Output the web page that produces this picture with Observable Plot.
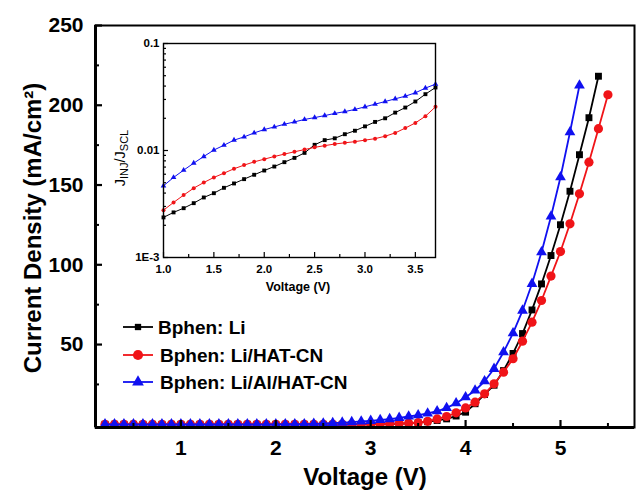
<!DOCTYPE html>
<html>
<head>
<meta charset="utf-8">
<script src="https://cdn.jsdelivr.net/npm/d3@7"></script>
<script src="https://cdn.jsdelivr.net/npm/@observablehq/plot@0.6"></script>
<style>
  html, body { margin: 0; padding: 0; background: #fff; }
  #wrap { position: relative; width: 636px; height: 491px; overflow: hidden; }
  #inset { position: absolute; left: 105px; top: 33px; }
  svg { font-family: "Liberation Sans", Arial, sans-serif; }
</style>
</head>
<body>
<div id="wrap"><div id="main"></div><div id="inset"></div></div>
<script>
// ---------- main chart data (J-V) ----------
const voltage = [0.2,0.3,0.4,0.5,0.6,0.7,0.8,0.9,1.0,1.1,1.2,1.3,1.4,1.5,1.6,1.7,1.8,1.9,2.0,
  2.1,2.2,2.3,2.4,2.5,2.6,2.7,2.8,2.9,3.0,3.1,3.2,3.3,3.4,3.5,3.6,3.7,3.8,3.9,4.0,
  4.1,4.2,4.3,4.4,4.5,4.6,4.7,4.8,4.9,5.0,5.1,5.2,5.3,5.4,5.5];
const jBphenLi = [0,0,0,0,0,0,0,0,0,0,0,0,0,0,0,0,0,0,0,0,0,0,0,0,0,0,0,0,0,0,
  0.15,0.3,0.6,1.0,1.6,2.4,3.4,5.2,7.6,12.9,18.7,24.5,33.7,44.4,56.9,71.7,88.0,105.8,125.1,146.1,169.0,192.2,218.2];
const jLiHat = [0,0,0,0,0,0,0,0,0,0,0,0,0,0,0,0,0,0,0,0,0,0,0,0,0,0,0,0,
  0.1,0.2,0.3,0.5,0.7,1.0,1.9,3.4,4.9,7.2,10.3,13.9,19.1,25.4,32.7,41.1,52.1,64.0,77.6,92.9,108.3,125.7,144.5,164.3,185.3,206.6];
const jLiAlHat = [0,0,0,0,0,0,0,0,0,0,0,0,0,0,0,0,0,0,0,
  0.1,0.1,0.1,0.3,0.5,0.8,1.1,1.4,1.8,2.2,2.7,3.3,4.1,4.9,5.7,6.8,8.2,10.3,13.2,17.0,21.2,27.0,34.8,45.2,57.1,71.3,88.1,107.9,130.3,154.9,183.1,212.4];

const seriesNames = ["Bphen: Li", "Bphen: Li/HAT-CN", "Bphen: Li/Al/HAT-CN"];
const seriesColors = ["#000000", "#f01418", "#1010f0"];
const seriesSymbols = ["square", "circle", "triangle"];

const xDomain = [0.1, 5.78];
const yDomain = [-2, 250];
const xMajor = [1, 2, 3, 4, 5];
const xMinor = [0.5, 1.5, 2.5, 3.5, 4.5, 5.5];
const yMajor = [50, 100, 150, 200, 250];
const yMinor = [25, 75, 125, 175, 225];

// ---------- inset data (J_INJ / J_SCL) ----------
const insetVoltage = [1.0,1.1,1.2,1.3,1.4,1.5,1.6,1.7,1.8,1.9,2.0,2.1,2.2,2.3,2.4,2.5,2.6,2.7,2.8,2.9,3.0,3.1,3.2,3.3,3.4,3.5,3.6,3.7];
const rBphenLi = [0.00237,0.00264,0.00289,0.00322,0.00364,0.00399,0.00448,0.00492,0.0054,0.00593,0.0065,0.00708,0.00778,0.00853,0.0095,
  0.0113,0.0125,0.0130,0.0142,0.0153,0.0168,0.0185,0.0200,0.0226,0.0252,0.0287,0.0336,0.0388];
const rLiHat = [0.00277,0.00327,0.00383,0.00445,0.00502,0.0056,0.00614,0.00675,0.0073,0.00783,0.0083,0.00879,0.00925,0.00973,0.0102,
  0.0107,0.0111,0.0115,0.0118,0.0121,0.0125,0.0129,0.0136,0.0146,0.0162,0.0181,0.0209,0.0256];
const rLiAlHat = [0.00468,0.0056,0.00655,0.00762,0.00879,0.0101,0.0112,0.0125,0.0134,0.0146,0.0157,0.0166,0.0176,0.0185,0.0195,
  0.0203,0.0212,0.0222,0.0231,0.0242,0.0256,0.0271,0.0287,0.0304,0.0322,0.0346,0.0383,0.0417];

const insetXDomain = [1.0, 3.7];
const insetYDomain = [0.001, 0.1];
const insetXMajor = [1.0, 1.5, 2.0, 2.5, 3.0, 3.5];
const insetXLabels = ["1.0", "1.5", "2.0", "2.5", "3.0", "3.5"];
const insetXMinor = [1.25, 1.75, 2.25, 2.75, 3.25];
const insetYMajor = [0.001, 0.01, 0.1];
const insetYLabels = ["1E-3", "0.01", "0.1"];
const insetYMinor = [0.002,0.003,0.004,0.005,0.006,0.007,0.008,0.009,0.02,0.03,0.04,0.05,0.06,0.07,0.08,0.09];

// ---------- build tables ----------
const mainJ = [jBphenLi, jLiHat, jLiAlHat];
const mainRows = mainJ.map((js, s) => js.map((j, i) => ({v: voltage[i], j, s})));
const insetR = [rBphenLi, rLiHat, rLiAlHat];
const insetRows = insetR.map((rs, s) => rs.map((r, i) => ({v: insetVoltage[i], r, s})));
const insetXLabelMap = new Map(insetXMajor.map((d, i) => [d, insetXLabels[i]]));
const insetYLabelMap = new Map(insetYMajor.map((d, i) => [d, insetYLabels[i]]));

const mainSizes = [3.9, 4.6, 4.0];
const insetSizes = [2.2, 2.0, 2.1];

// ---------- main plot ----------
const mainMarks = [];
mainRows.forEach((rows, s) => {
  mainMarks.push(Plot.line(rows, {x: "v", y: "j", stroke: seriesColors[s], strokeWidth: 1.8}));
  mainMarks.push(Plot.dot(rows, {x: "v", y: "j", symbol: () => seriesSymbols[s], fill: seriesColors[s], stroke: "none", r: mainSizes[s]}));
});

const main = Plot.plot({
  width: 636, height: 491,
  marginLeft: 95, marginRight: 2, marginTop: 25, marginBottom: 64,
  x: {domain: xDomain},
  y: {domain: yDomain},
  style: {fontFamily: "'Liberation Sans', Arial, sans-serif", background: "white", overflow: "visible"},
  marks: [
    ...mainMarks,
    Plot.frame({stroke: "#000", strokeWidth: 2}),
    Plot.ruleX([xDomain[0]], {stroke: "#000", strokeWidth: 3}),
    Plot.ruleY([yDomain[0]], {stroke: "#000", strokeWidth: 3}),
    Plot.axisX({ticks: xMajor, tickSize: -7, text: null, label: null, strokeWidth: 2.2}),
    Plot.axisX({ticks: xMinor, tickSize: -4, text: null, label: null, strokeWidth: 2}),
    Plot.axisX({ticks: xMajor, tickSize: 0, tickPadding: 13, tickFormat: d => String(d), label: null,
      fontSize: 21, fontWeight: "bold", fill: "#000"}),
    Plot.axisY({ticks: yMajor, tickSize: -7, text: null, label: null, strokeWidth: 2.2}),
    Plot.axisY({ticks: yMinor, tickSize: -4, text: null, label: null, strokeWidth: 2}),
    Plot.axisY({ticks: yMajor, tickSize: 0, tickPadding: 12, tickFormat: d => String(d), label: null,
      fontSize: 21, fontWeight: "bold", fill: "#000"})
  ]
});
document.getElementById("main").appendChild(main);

const svg = d3.select(main);
// axis titles
svg.append("text")
  .attr("transform", "translate(41,228) rotate(-90)")
  .attr("text-anchor", "middle")
  .attr("font-size", 24).attr("font-weight", "bold").attr("fill", "#000")
  .text("Current Density (mA/cm²)");
svg.append("text")
  .attr("x", 365).attr("y", 485)
  .attr("text-anchor", "middle")
  .attr("font-size", 24).attr("font-weight", "bold").attr("fill", "#000")
  .text("Voltage (V)");

// legend
const legendRowY = [327, 355, 382];
seriesNames.forEach((name, s) => {
  const g = svg.append("g").attr("transform", `translate(123,${legendRowY[s]})`);
  g.append("line").attr("x1", 0).attr("x2", 30).attr("y1", 0).attr("y2", 0)
    .attr("stroke", seriesColors[s]).attr("stroke-width", 1.8);
  const sym = d3.symbol().type(seriesSymbols[s] === "square" ? d3.symbolSquare : seriesSymbols[s] === "circle" ? d3.symbolCircle : d3.symbolTriangle)
    .size(seriesSymbols[s] === "square" ? 40 : seriesSymbols[s] === "circle" ? 80 : 60);
  g.append("path").attr("d", sym()).attr("transform", "translate(15,0)").attr("fill", seriesColors[s]);
  g.append("text").attr("x", s === 0 ? 35 : 37).attr("y", 0).attr("dy", "0.36em")
    .attr("text-anchor", "start")
    .attr("font-size", 19).attr("font-weight", "bold").attr("fill", "#000").text(name);
});

// ---------- inset plot ----------
const insetMarks = [];
insetRows.forEach((rows, s) => {
  insetMarks.push(Plot.line(rows, {x: "v", y: "r", stroke: seriesColors[s], strokeWidth: 1}));
  insetMarks.push(Plot.dot(rows, {x: "v", y: "r", symbol: () => seriesSymbols[s], fill: seriesColors[s], stroke: "none", r: insetSizes[s]}));
});

const inset = Plot.plot({
  width: 340, height: 265,
  marginLeft: 58, marginRight: 10, marginTop: 10, marginBottom: 41,
  x: {domain: insetXDomain},
  y: {type: "log", domain: insetYDomain},
  style: {fontFamily: "'Liberation Sans', Arial, sans-serif", background: "transparent", overflow: "visible"},
  marks: [
    ...insetMarks,
    Plot.frame({stroke: "#000", strokeWidth: 1.4}),
    Plot.axisX({ticks: insetXMajor, tickSize: -5, text: null, label: null, strokeWidth: 1.2}),
    Plot.axisX({ticks: insetXMinor, tickSize: -3, text: null, label: null, strokeWidth: 1.2}),
    Plot.axisX({ticks: insetXMajor, tickSize: 0, tickPadding: 7, tickFormat: d => insetXLabelMap.get(d), label: null,
      fontSize: 11.5, fontWeight: "bold", fill: "#000"}),
    Plot.axisY({ticks: insetYMajor, tickSize: -5, text: null, label: null, strokeWidth: 1.2}),
    Plot.axisY({ticks: insetYMinor, tickSize: -3, text: null, label: null, strokeWidth: 1.2}),
    Plot.axisY({ticks: insetYMajor, tickSize: 0, tickPadding: 4, tickFormat: d => insetYLabelMap.get(d), label: null,
      fontSize: 11.5, fontWeight: "bold", fill: "#000"})
  ]
});
document.getElementById("inset").appendChild(inset);

const isvg = d3.select(inset);
isvg.append("text")
  .attr("x", 193).attr("y", 258)
  .attr("text-anchor", "middle")
  .attr("font-size", 12.5).attr("font-weight", "bold").attr("fill", "#000")
  .text("Voltage (V)");
const yl = isvg.append("text")
  .attr("transform", "translate(20,125) rotate(-90)")
  .attr("text-anchor", "middle")
  .attr("font-size", 14.5).attr("fill", "#000");
yl.append("tspan").text("J");
yl.append("tspan").attr("font-size", 11).attr("dy", 3).text("INJ");
yl.append("tspan").attr("dy", -3).text("/J");
yl.append("tspan").attr("font-size", 11).attr("dy", 3).text("SCL");
</script>
</body>
</html>
